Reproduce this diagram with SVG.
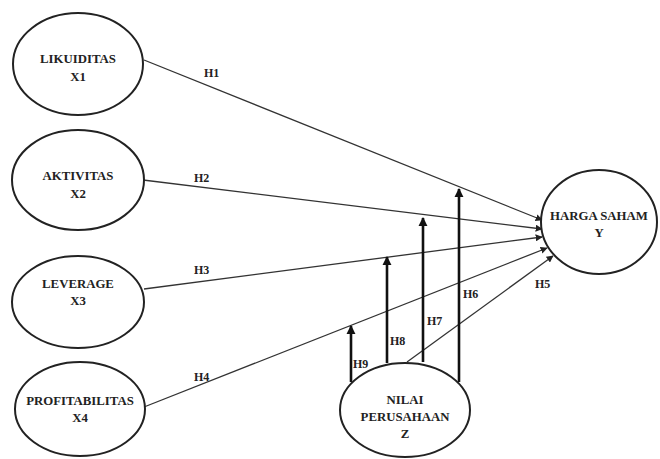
<svg xmlns="http://www.w3.org/2000/svg" width="660" height="459" viewBox="0 0 660 459">
<defs>
<marker id="ah" viewBox="0 0 10 10" refX="9" refY="5" markerWidth="7" markerHeight="7" markerUnits="userSpaceOnUse" orient="auto">
<path d="M0,0 L10,5 L0,10 Z" fill="#222"/>
</marker>
<marker id="ahv" viewBox="0 0 10 10" refX="9" refY="5" markerWidth="3.6" markerHeight="3.6" orient="auto">
<path d="M0,0 L10,5 L0,10 Z" fill="#111"/>
</marker>
</defs>
<style>
.node ellipse{fill:#fff;stroke:#222;stroke-width:2}
text{font-family:"Liberation Serif","Times New Roman",serif;font-weight:bold;font-size:12.8px;fill:#222;text-anchor:middle}
.lbl{text-anchor:start;font-size:12px}
.thin{stroke:#333;stroke-width:1.3;fill:none}
.thick{stroke:#111;stroke-width:2.6;fill:none}
</style>
<g id="connectors">
<line class="thin" x1="144" y1="60" x2="542" y2="220" marker-end="url(#ah)"/>
<line class="thin" x1="143" y1="180" x2="542" y2="229" marker-end="url(#ah)"/>
<line class="thin" x1="144" y1="289" x2="542" y2="237" marker-end="url(#ah)"/>
<line class="thin" x1="144" y1="407" x2="547" y2="248" marker-end="url(#ah)"/>
<line class="thin" x1="407" y1="362" x2="553" y2="256" marker-end="url(#ah)"/>
<line class="thick" x1="351" y1="382" x2="351" y2="326" marker-end="url(#ahv)"/>
<line class="thick" x1="387" y1="363" x2="387" y2="257" marker-end="url(#ahv)"/>
<line class="thick" x1="423" y1="362" x2="423" y2="218" marker-end="url(#ahv)"/>
<line class="thick" x1="459" y1="382" x2="459" y2="189" marker-end="url(#ahv)"/>
<text class="lbl" x="204" y="77">H1</text>
<text class="lbl" x="194" y="182">H2</text>
<text class="lbl" x="194" y="274">H3</text>
<text class="lbl" x="194" y="381">H4</text>
<text class="lbl" x="535" y="288">H5</text>
<text class="lbl" x="463" y="298">H6</text>
<text class="lbl" x="427" y="325">H7</text>
<text class="lbl" x="390" y="345">H8</text>
<text class="lbl" x="353" y="368">H9</text>
</g>
<g id="likuiditas" class="node">
<ellipse cx="78" cy="64" rx="65" ry="51"/>
<text x="78" y="63">LIKUIDITAS</text>
<text x="78" y="81">X1</text>
</g>
<g id="aktivitas" class="node">
<ellipse cx="78" cy="180" rx="66" ry="50"/>
<text x="78" y="180">AKTIVITAS</text>
<text x="78" y="198">X2</text>
</g>
<g id="leverage" class="node">
<ellipse cx="78" cy="302" rx="66" ry="46"/>
<text x="78" y="288">LEVERAGE</text>
<text x="78" y="305">X3</text>
</g>
<g id="profitabilitas" class="node">
<ellipse cx="80" cy="409" rx="65" ry="47"/>
<text x="80" y="405">PROFITABILITAS</text>
<text x="80" y="422">X4</text>
</g>
<g id="harga-saham" class="node">
<ellipse cx="599" cy="222" rx="58" ry="52"/>
<text x="599" y="220">HARGA SAHAM</text>
<text x="599" y="237">Y</text>
</g>
<g id="nilai-perusahaan" class="node">
<ellipse cx="405" cy="410" rx="65" ry="47"/>
<text x="405" y="404">NILAI</text>
<text x="405" y="421">PERUSAHAAN</text>
<text x="405" y="438">Z</text>
</g>
</svg>
